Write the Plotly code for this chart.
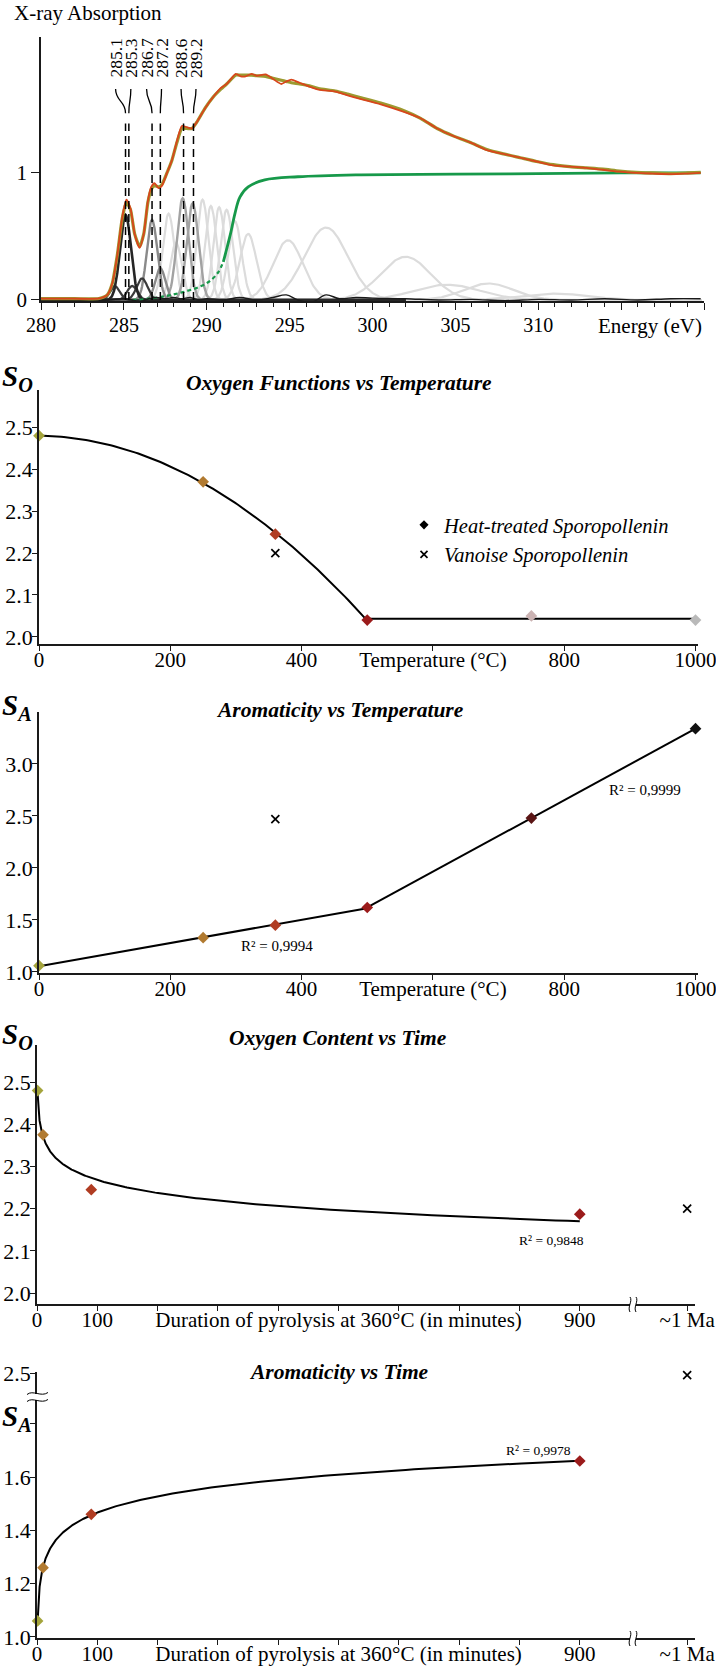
import numpy as np
import plotly.graph_objects as go

W, H = 716, 1667
SERIF = "Liberation Serif"


def PX(px):
    return px / W


def PY(py):
    return 1 - py / H


# ================= Panel 1 : C-XANES spectrum =================
energy_tickvals = [280, 285, 290, 295, 300, 305, 310, 315, 320]
energy_ticktext = ["280", "285", "290", "295", "300", "305", "310", "", ""]
absorb_tickvals = [0, 1]
absorb_ticktext = ["0", "1"]

spec_energy = [280.0, 282.0, 283.5, 284.0, 284.3, 284.6, 284.9, 285.15, 285.4, 285.65,
               285.95, 286.2, 286.45, 286.65, 286.85, 287.1, 287.3, 287.6, 287.9, 288.2,
               288.5, 288.8, 289.1, 289.4, 289.9, 290.4, 290.85, 291.2, 291.75, 292.05,
               292.35, 292.7, 293.0, 293.55, 294.0, 294.5, 294.8, 295.1, 295.6, 296.2,
               296.75, 297.75, 298.5, 299.2, 300.5, 301.9, 302.9, 303.9, 304.9, 305.9,
               306.9, 307.9, 308.9, 309.9, 310.9, 311.9, 312.9, 313.9, 314.9, 315.9,
               316.9, 318.0, 319.0, 319.8]
spec_measured = [0.01, 0.01, 0.012, 0.04, 0.13, 0.35, 0.65, 0.79, 0.72, 0.52,
                 0.41, 0.52, 0.78, 0.89, 0.92, 0.88, 0.90, 1.00, 1.10, 1.25,
                 1.37, 1.36, 1.35, 1.40, 1.51, 1.60, 1.67, 1.70, 1.78, 1.76,
                 1.76, 1.78, 1.765, 1.775, 1.74, 1.70, 1.72, 1.735, 1.71, 1.68,
                 1.655, 1.64, 1.61, 1.585, 1.54, 1.48, 1.43, 1.35, 1.29, 1.24,
                 1.18, 1.15, 1.12, 1.09, 1.06, 1.05, 1.04, 1.025, 1.01, 1.0,
                 0.995, 0.99, 0.995, 1.0]
spec_fit = [0.01, 0.01, 0.012, 0.04, 0.13, 0.35, 0.64, 0.77, 0.71, 0.52,
            0.42, 0.52, 0.77, 0.87, 0.90, 0.89, 0.91, 1.00, 1.10, 1.24,
            1.35, 1.35, 1.35, 1.40, 1.51, 1.60, 1.66, 1.70, 1.77, 1.77,
            1.77, 1.77, 1.765, 1.76, 1.745, 1.73, 1.72, 1.71, 1.70, 1.685,
            1.665, 1.645, 1.62, 1.595, 1.55, 1.49, 1.43, 1.35, 1.29, 1.24,
            1.185, 1.15, 1.12, 1.09, 1.065, 1.05, 1.04, 1.03, 1.015, 1.005,
            1.0, 0.995, 1.0, 1.005]

step_energy = [285.5, 286.5, 287.5, 288.5, 289.5, 290.2, 290.7, 291.0, 291.2, 291.45,
               291.7, 292.0, 292.5, 293.5, 295.5, 299.0, 305.0, 310.0, 315.0, 319.8]
step_value = [0.00, 0.01, 0.03, 0.06, 0.10, 0.15, 0.22, 0.30, 0.40, 0.53,
              0.68, 0.81, 0.89, 0.945, 0.97, 0.985, 0.99, 0.995, 1.0, 1.0]
STEP_DASHED_UNTIL = 8  # first points of the step are drawn dashed

resid_energy = [280, 284, 285, 286, 286.5, 287.0, 287.5, 288.0, 288.5, 289.0, 289.5, 290,
                291, 292, 293, 294, 294.8, 295.5, 296.3, 297.2, 298, 299, 300, 302, 304,
                306, 308, 310, 312, 314, 316, 318, 319.8]
resid_value = [0, 0, 0.01, -0.01, 0.01, 0.02, 0.01, 0.02, 0.01, 0.02, 0.0, 0.01,
               0.0, 0.02, 0.0, 0.02, 0.04, 0.0, -0.02, 0.04, 0.01, 0.02, 0.015, 0.01, 0.0,
               0.005, -0.005, 0.005, 0.0, 0.01, 0.0, 0.01, 0.01]

gauss_center = [284.45, 285.1, 285.5, 286.1, 286.7, 287.2, 288.55, 289.15,
                287.7, 288.15, 289.75, 290.25, 290.75, 291.2, 291.7, 292.5, 294.9, 297.2,
                302.0, 304.5, 307.0, 311.0]
gauss_amp = [0.11, 0.67, 0.11, 0.17, 0.63, 0.25, 0.80, 0.76,
             0.68, 0.45, 0.79, 0.74, 0.73, 0.71, 0.62, 0.52, 0.47, 0.57,
             0.34, 0.12, 0.13, 0.05]
gauss_width = [0.28, 0.33, 0.30, 0.33, 0.32, 0.30, 0.35, 0.35,
               0.35, 0.35, 0.35, 0.35, 0.35, 0.37, 0.40, 0.50, 0.90, 1.30,
               1.50, 2.0, 1.5, 2.0]
gauss_group = ["dark", "black", "dark", "dark", "mid", "mid", "gray", "gray"] + ["light"] * 14

peak_labels = ["285.1", "285.3", "286.7", "287.2", "288.6", "289.2"]
peak_energy = [285.1, 285.3, 286.7, 287.2, 288.6, 289.2]
peak_label_x = [284.50, 285.42, 286.37, 287.27, 288.45, 289.35]   # label placement

# ================= Panels 2-3 : vs temperature =================
temperature = [0, 250, 360, 500, 750, 1000]
so_temperature = [2.48, 2.37, 2.245, 2.04, 2.05, 2.04]
sa_temperature = [1.06, 1.33, 1.45, 1.62, 2.48, 3.34]
so_colors = ["#a4a43c", "#b17a30", "#b03c22", "#9b1b1b", "#cbb3b3", "#b9b9b9"]
sa_colors = ["#a4a43c", "#b17a30", "#b03c22", "#9b1b1b", "#5a1515", "#111111"]
vanoise_temperature = 360
vanoise_so = 2.20
vanoise_sa = 2.47
temp_tickvals = [0, 200, 400, 600, 800, 1000]
temp_ticktext = ["0", "200", "400", "Temperature (°C)", "800", "1000"]
so_tickvals = [2.0, 2.1, 2.2, 2.3, 2.4, 2.5]
so_ticktext = ["2.0", "2.1", "2.2", "2.3", "2.4", "2.5"]
sa_tickvals = [1.0, 1.5, 2.0, 2.5, 3.0]
sa_ticktext = ["1.0", "1.5", "2.0", "2.5", "3.0"]

# ================= Panels 4-5 : vs time =================
duration = [1, 10, 90, 900]
so_duration = [2.48, 2.375, 2.245, 2.187]
sa_duration = [1.06, 1.26, 1.46, 1.66]
time_colors = ["#a4a43c", "#b17a30", "#b03c22", "#9b1b1b"]
MA_POS = 1078          # axis position of the "~1 Ma" category (after the break)
time_tickvals = [0, 100, 500, 900, MA_POS]
time_ticktext = ["0", "100", "Duration of pyrolysis at 360°C (in minutes)", "900", "~1 Ma"]
time_minor_ticks = [200, 300, 400, 600, 700, 800]
sa_time_tickvals = [1.0, 1.2, 1.4, 1.6, 1.99]
sa_time_ticktext = ["1.0", "1.2", "1.4", "1.6", "2.5"]
sa_time_minor_ticks = [1.8]
SA_BREAK_POS = 1.99    # where 2.5 sits on the broken axis
SA_BREAK_VALUE = 2.5
SA_BREAK_SCALE = 0.25


def sa_broken(v):
    return SA_BREAK_POS + (v - SA_BREAK_VALUE) * SA_BREAK_SCALE


fig = go.Figure()

# ---------- Panel 1 traces ----------
grid_full = np.arange(280, 319.85, 0.05)
grid_dark = np.arange(280, 302.01, 0.05)
group_style = {"light": ("#dcdcdc", 2.2), "gray": ("#a2a2a2", 2.4), "mid": ("#8a8a8a", 2.4),
               "dark": ("#3a3a3a", 2.2), "black": ("#262626", 2.6)}
for grp in ["light", "gray", "mid", "dark", "black"]:
    col, lw = group_style[grp]
    for c, a, s, g in zip(gauss_center, gauss_amp, gauss_width, gauss_group):
        if g != grp:
            continue
        xs = grid_full if grp == "light" else grid_dark
        ys = a * np.exp(-0.5 * ((xs - c) / s) ** 2)
        fig.add_trace(go.Scatter(x=xs, y=ys, mode="lines", line=dict(color=col, width=lw),
                                 xaxis="x", yaxis="y", showlegend=False, hoverinfo="skip"))

fig.add_trace(go.Scatter(x=step_energy[:STEP_DASHED_UNTIL], y=step_value[:STEP_DASHED_UNTIL],
                         mode="lines", line=dict(color="#17994a", width=2.2, dash="4px,3px", shape="spline"),
                         xaxis="x", yaxis="y", showlegend=False))
fig.add_trace(go.Scatter(x=step_energy[STEP_DASHED_UNTIL - 1:], y=step_value[STEP_DASHED_UNTIL - 1:],
                         mode="lines", line=dict(color="#17994a", width=2.8, shape="spline"),
                         xaxis="x", yaxis="y", showlegend=False))
fig.add_trace(go.Scatter(x=resid_energy, y=resid_value, mode="lines",
                         line=dict(color="#1a1a1a", width=1.4, shape="spline"),
                         xaxis="x", yaxis="y", showlegend=False))
fig.add_trace(go.Scatter(x=spec_energy, y=spec_fit, mode="lines",
                         line=dict(color="#9c9a30", width=3.2, shape="spline", smoothing=0.6),
                         xaxis="x", yaxis="y", showlegend=False))
fig.add_trace(go.Scatter(x=spec_energy, y=spec_measured, mode="lines",
                         line=dict(color="#d8461c", width=1.8, shape="spline", smoothing=0.6),
                         xaxis="x", yaxis="y", showlegend=False))

# ---------- Panel 2 traces ----------
quad = np.polyfit(temperature[:4], so_temperature[:4], 2)
t_curve = np.linspace(temperature[0], temperature[3], 120)
fig.add_trace(go.Scatter(x=t_curve, y=np.polyval(quad, t_curve), mode="lines",
                         line=dict(color="black", width=2), xaxis="x2", yaxis="y2", showlegend=False))
plateau = float(np.mean(so_temperature[3:]))
fig.add_trace(go.Scatter(x=[temperature[3], temperature[5]], y=[plateau, plateau], mode="lines",
                         line=dict(color="black", width=2), xaxis="x2", yaxis="y2", showlegend=False))
fig.add_trace(go.Scatter(x=temperature, y=so_temperature, mode="markers", cliponaxis=False,
                         marker=dict(symbol="diamond", size=9, color=so_colors),
                         xaxis="x2", yaxis="y2", showlegend=False))
fig.add_trace(go.Scatter(x=[vanoise_temperature], y=[vanoise_so], mode="markers", cliponaxis=False,
                         marker=dict(symbol="x-thin", size=8, line=dict(color="black", width=1.7)),
                         xaxis="x2", yaxis="y2", showlegend=False))
# legend entries
fig.add_trace(go.Scatter(x=[None], y=[None], mode="markers", name="Heat-treated Sporopollenin",
                         marker=dict(symbol="diamond", size=7, color="black"),
                         xaxis="x2", yaxis="y2", showlegend=True))
fig.add_trace(go.Scatter(x=[None], y=[None], mode="markers", name="Vanoise Sporopollenin",
                         marker=dict(symbol="x-thin", size=7, line=dict(color="black", width=1.7)),
                         xaxis="x2", yaxis="y2", showlegend=True))

# ---------- Panel 3 traces ----------
lin1 = np.polyfit(temperature[:4], sa_temperature[:4], 1)
lin2 = np.polyfit(temperature[3:], sa_temperature[3:], 1)
seg1 = np.array([temperature[0], temperature[3]])
seg2 = np.array([temperature[3], temperature[5]])
fig.add_trace(go.Scatter(x=seg1, y=np.polyval(lin1, seg1), mode="lines",
                         line=dict(color="black", width=2), xaxis="x3", yaxis="y3", showlegend=False))
fig.add_trace(go.Scatter(x=seg2, y=np.polyval(lin2, seg2), mode="lines",
                         line=dict(color="black", width=2), xaxis="x3", yaxis="y3", showlegend=False))
fig.add_trace(go.Scatter(x=temperature, y=sa_temperature, mode="markers", cliponaxis=False,
                         marker=dict(symbol="diamond", size=9, color=sa_colors),
                         xaxis="x3", yaxis="y3", showlegend=False))
fig.add_trace(go.Scatter(x=[vanoise_temperature], y=[vanoise_sa], mode="markers", cliponaxis=False,
                         marker=dict(symbol="x-thin", size=8, line=dict(color="black", width=1.7)),
                         xaxis="x3", yaxis="y3", showlegend=False))

# ---------- Panel 4 traces ----------
logfit_so = np.polyfit(np.log(duration), so_duration, 1)
d_curve = np.geomspace(duration[0], duration[-1], 300)
fig.add_trace(go.Scatter(x=d_curve, y=np.polyval(logfit_so, np.log(d_curve)), mode="lines",
                         line=dict(color="black", width=2), xaxis="x4", yaxis="y4", showlegend=False))
fig.add_trace(go.Scatter(x=duration, y=so_duration, mode="markers", cliponaxis=False,
                         marker=dict(symbol="diamond", size=9, color=time_colors),
                         xaxis="x4", yaxis="y4", showlegend=False))
fig.add_trace(go.Scatter(x=[MA_POS], y=[vanoise_so], mode="markers", cliponaxis=False,
                         marker=dict(symbol="x-thin", size=8, line=dict(color="black", width=1.7)),
                         xaxis="x4", yaxis="y4", showlegend=False))

# ---------- Panel 5 traces ----------
logfit_sa = np.polyfit(np.log(duration), sa_duration, 1)
fig.add_trace(go.Scatter(x=d_curve, y=np.polyval(logfit_sa, np.log(d_curve)), mode="lines",
                         line=dict(color="black", width=2), xaxis="x5", yaxis="y5", showlegend=False))
fig.add_trace(go.Scatter(x=duration, y=sa_duration, mode="markers", cliponaxis=False,
                         marker=dict(symbol="diamond", size=9, color=time_colors),
                         xaxis="x5", yaxis="y5", showlegend=False))
fig.add_trace(go.Scatter(x=[MA_POS], y=[sa_broken(vanoise_sa)], mode="markers", cliponaxis=False,
                         marker=dict(symbol="x-thin", size=8, line=dict(color="black", width=1.7)),
                         xaxis="x5", yaxis="y5", showlegend=False))

# ---------- axes ----------
base = dict(showline=True, linecolor="#1a1a1a", linewidth=1.6, ticks="outside", ticklen=5,
            tickwidth=1.2, tickcolor="#1a1a1a", showgrid=False, zeroline=False,
            tickangle=0, tickmode="array", automargin=False, ticklabeloverflow="allow")
xbase = dict(base, tickfont=dict(family=SERIF, size=21, color="black"), ticklabelstandoff=-9)
ybase = dict(base, tickfont=dict(family=SERIF, size=22, color="black"), ticklabelstandoff=-5)
minor_style = dict(ticks="outside", ticklen=5, tickwidth=1.2, tickcolor="#1a1a1a", tickmode="array")

layout_axes = {}
# panel 1
layout_axes["xaxis"] = dict(base, domain=[PX(41), PX(704)], range=[280, 320], anchor="y",
                            tickvals=energy_tickvals, ticktext=energy_ticktext, ticklen=7,
                            tickfont=dict(family=SERIF, size=20, color="black"),
                            ticklabelstandoff=-2,
                            minor=dict(ticks="outside", ticklen=4, dtick=1, tick0=280,
                                       tickcolor="#1a1a1a", tickwidth=1))
layout_axes["yaxis"] = dict(base, domain=[PY(301), PY(37)], range=[-0.008, 2.07], anchor="x",
                            tickvals=absorb_tickvals, ticktext=absorb_ticktext, ticklen=8,
                            tickfont=dict(family=SERIF, size=21, color="black"),
                            ticklabelstandoff=0)
# panel 2
layout_axes["xaxis2"] = dict(xbase, domain=[PX(39), PX(698)], range=[0, 1003.8], anchor="y2",
                             tickvals=temp_tickvals, ticktext=temp_ticktext)
layout_axes["yaxis2"] = dict(ybase, domain=[PY(644), PY(390)], range=[1.983, 2.589], anchor="x2",
                             tickvals=so_tickvals, ticktext=so_ticktext)
# panel 3
layout_axes["xaxis3"] = dict(xbase, domain=[PX(39), PX(698)], range=[0, 1003.8], anchor="y3",
                             tickvals=temp_tickvals, ticktext=temp_ticktext)
layout_axes["yaxis3"] = dict(ybase, domain=[PY(973), PY(712)], range=[0.99, 3.5], anchor="x3",
                             tickvals=sa_tickvals, ticktext=sa_ticktext)
# panel 4
layout_axes["xaxis4"] = dict(xbase, domain=[PX(37), PX(695)], range=[0, 1091], anchor="y4",
                             tickvals=time_tickvals, ticktext=time_ticktext,
                             minor=dict(minor_style, tickvals=time_minor_ticks))
layout_axes["yaxis4"] = dict(ybase, domain=[PY(1304), PY(1045)], range=[1.974, 2.588], anchor="x4",
                             tickvals=so_tickvals, ticktext=so_ticktext)
# panel 5
layout_axes["xaxis5"] = dict(xbase, domain=[PX(37), PX(695)], range=[0, 1091], anchor="y5",
                             tickvals=time_tickvals, ticktext=time_ticktext,
                             minor=dict(minor_style, tickvals=time_minor_ticks))
layout_axes["yaxis5"] = dict(ybase, domain=[PY(1638), PY(1372)], range=[0.996, 1.994], anchor="x5",
                             tickvals=sa_time_tickvals, ticktext=sa_time_ticktext,
                             minor=dict(minor_style, tickvals=sa_time_minor_ticks))

# ---------- annotations ----------
ann = []


def text(px, py, s, size, xanchor="center", yanchor="middle", angle=0):
    ann.append(dict(x=PX(px), y=PY(py), xref="paper", yref="paper", text=s, showarrow=False,
                    xanchor=xanchor, yanchor=yanchor, textangle=angle,
                    font=dict(family=SERIF, size=size, color="black")))


text(12, 13, "X-ray Absorption", 21, xanchor="left")
text(704, 326, "Energy (eV)", 21, xanchor="right")
for lab, lx in zip(peak_labels, peak_label_x):
    ann.append(dict(x=lx, y=1.905, xref="x", yref="y", text=lab, showarrow=False, textangle=-90,
                    font=dict(family=SERIF, size=17.5, color="black")))

titles = [("Oxygen Functions vs Temperature", 339, 383),
          ("Aromaticity vs Temperature", 340, 710),
          ("Oxygen Content vs Time", 338, 1038),
          ("Aromaticity vs Time", 339, 1372)]
for t, cx, cy in titles:
    text(cx, cy, "<b><i>%s</i></b>" % t, 21.5)

symbols = [("O", 378), ("A", 707), ("O", 1036), ("A", 1418)]
for sub, cy in symbols:
    ann.append(dict(x=PX(0), y=PY(cy), xref="paper", yref="paper", showarrow=False,
                    xanchor="left", yanchor="middle",
                    text="<b><i>S</i></b><sub><b><i>%s</i></b></sub>" % sub,
                    font=dict(family=SERIF, size=29, color="black")))

text(277, 946, "R² = 0,9994", 15)
text(645, 790, "R² = 0,9999", 15)
text(551, 1240, "R² = 0,9848", 13.5)
text(538, 1450, "R² = 0,9978", 13.5)

# ---------- shapes ----------
shapes = []
for pe, lx in zip(peak_energy, peak_label_x):
    shapes.append(dict(type="line", xref="x", yref="y", x0=pe, x1=pe, y0=0.0, y1=1.39,
                       line=dict(color="black", width=1.5, dash="8px,5px")))
    shapes.append(dict(type="path", xref="x", yref="y",
                       path="M %.3f,1.66 C %.3f,1.56 %.3f,1.57 %.3f,1.47" % (lx, lx, pe, pe),
                       line=dict(color="black", width=1.3)))


def xbreak(px, py):
    shapes.append(dict(type="rect", xref="paper", yref="paper", x0=PX(px - 3), x1=PX(px + 3),
                       y0=PY(py + 2), y1=PY(py - 2), fillcolor="white", line=dict(width=0),
                       layer="above"))
    for dx in (-3, 3):
        x = px + dx
        shapes.append(dict(type="path", xref="paper", yref="paper", layer="above",
                           path="M %f,%f C %f,%f %f,%f %f,%f" % (
                               PX(x), PY(py - 7), PX(x + 3), PY(py - 3),
                               PX(x - 3), PY(py + 3), PX(x), PY(py + 8)),
                           line=dict(color="black", width=1)))


def ybreak(px, py):
    shapes.append(dict(type="rect", xref="paper", yref="paper", x0=PX(px - 4), x1=PX(px + 4),
                       y0=PY(py + 3), y1=PY(py - 3), fillcolor="white", line=dict(width=0),
                       layer="above"))
    for dy in (-3.5, 3.5):
        y = py + dy
        shapes.append(dict(type="path", xref="paper", yref="paper", layer="above",
                           path="M %f,%f C %f,%f %f,%f %f,%f" % (
                               PX(px - 10), PY(y + 1), PX(px - 4), PY(y - 4),
                               PX(px + 4), PY(y + 4), PX(px + 11), PY(y - 1)),
                           line=dict(color="black", width=1)))


xbreak(633, 1304)
xbreak(633, 1638)
ybreak(37, 1397)

fig.update_layout(
    width=W, height=H, autosize=False,
    margin=dict(l=0, r=0, t=0, b=0, pad=0, autoexpand=False),
    paper_bgcolor="white", plot_bgcolor="white",
    font=dict(family=SERIF, color="black"),
    showlegend=True,
    legend=dict(x=PX(404), y=PY(505), xanchor="left", yanchor="top",
                font=dict(family=SERIF, size=20.5, style="italic", color="black"),
                bgcolor="rgba(0,0,0,0)", tracegroupgap=0, itemwidth=30),
    annotations=ann, shapes=shapes,
    **layout_axes,
)

fig.write_html(
    "out.html",
    config={"displayModeBar": False},
    post_script="document.body.style.margin='0';document.body.style.padding='0';"
                "document.body.style.overflow='hidden';",
)
